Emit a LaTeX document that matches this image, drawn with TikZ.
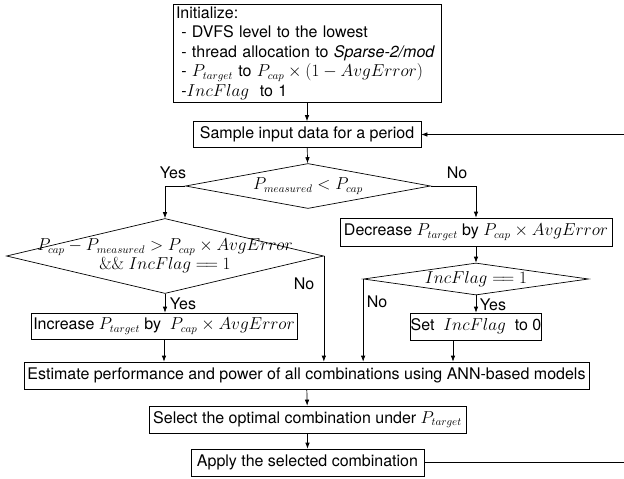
\documentclass[tikz,border=0pt]{standalone}
\usepackage{amsmath}
\usepackage[no-math]{fontspec}
\setmainfont{TeX Gyre Heros}
\usetikzlibrary{arrows.meta,shapes.geometric}

\begin{document}
\begin{tikzpicture}[x=1pt,y=-1pt,font=\fontsize{16}{19.5}\selectfont,line width=0.7pt,
	>={Latex[length=6pt,width=4.5pt]},
	box/.style={draw,rectangle,inner sep=0pt,minimum height=26pt},
	dia/.style={draw,diamond,inner sep=0pt,aspect=1}]
	\useasboundingbox (0,0) rectangle (624,479);
	\begin{scope}[every node/.style={box}]
		\node[minimum width=268pt,minimum height=98pt,text width=262pt,align=left] (init) at (307,53)
			{Initialize:\\
			\ - DVFS level to the lowest\\
			\ - thread allocation to \textit{Sparse-2/mod}\\
			\ - $P_{target}$ to $P_{cap} \times (1 - AvgError)$\\
			\ -$IncFlag$ \ to 1};
		\node[minimum width=228pt] (sample) at (307,134.5) {Sample input data for a period};
		\node[minimum width=272pt,minimum height=28pt] (decrease) at (476,232) {Decrease $P_{target}$ by $P_{cap} \times AvgError$};
		\node[minimum width=266pt] (increase) at (164,326) {Increase $P_{target}$ by \ $P_{cap} \times AvgError$};
		\node[minimum width=126pt,minimum height=27pt] (set) at (476,326.5) {Set \ $IncFlag$ \ to 0};
		\node[minimum width=565pt,minimum height=27pt] (estimate) at (306.5,375.5) {Estimate performance and power of all combinations using ANN-based models};
		\node[minimum width=317pt,minimum height=27pt] (select) at (307.5,419.5) {Select the optimal combination under $P_{target}$};
		\node[minimum width=233pt,minimum height=27pt] (apply) at (307.5,462.5) {Apply the selected combination};
	\end{scope}
	\begin{scope}[every node/.style={dia}]
		\node[minimum width=245pt,minimum height=45pt,label=center:{$P_{measured} < P_{cap}$}] (d1) at (308,186) {};
		\node[minimum width=317pt,minimum height=75pt,
			label={[align=center]center:{$P_{cap} - P_{measured} > P_{cap} \times AvgError$\\$\&\&\ IncFlag \mathrel{=\!=} 1$}}] (d2) at (165,256) {};
		\node[minimum width=225pt,minimum height=32pt,label=center:{$IncFlag \mathrel{=\!=} 1$}] (d3) at (476,279) {};
	\end{scope}
	% branch labels
	\node (yes1) at (173,173) {Yes};
	\node (no1) at (457,173) {No};
	\node (yes2) at (183,304) {Yes};
	\node (no2) at (304,284) {No};
	\node (no3) at (377,302) {No};
	\node (yes3) at (493,305) {Yes};
	\coordinate (loop) at (640,300);
	% connectors
	\draw[->] (init) -- (sample);
	\draw[->] (sample) -- (d1);
	\draw[->] (d1.west) -| (d2.north);
	\draw[->] (d1.east) -| (decrease.north);
	\draw[->] (d2.south) -- (d2.south |- increase.north);
	\draw[->] (d2.east) -- (d2.east |- estimate.north);
	\draw[->] (increase) -- (increase.south |- estimate.north);
	\draw[->] (decrease) -- (d3);
	\draw[->] (d3.west) -- (d3.west |- estimate.north);
	\draw[->] (d3) -- (set);
	\draw[->] ([xshift=-23pt]set.south) -- ([xshift=-23pt]set.south |- estimate.north);
	\draw[->] (estimate) -- (select);
	\draw[->] (select) -- (apply);
	\draw[->] (apply.east) -| (loop) |- (sample.east);
\end{tikzpicture}
\end{document}
